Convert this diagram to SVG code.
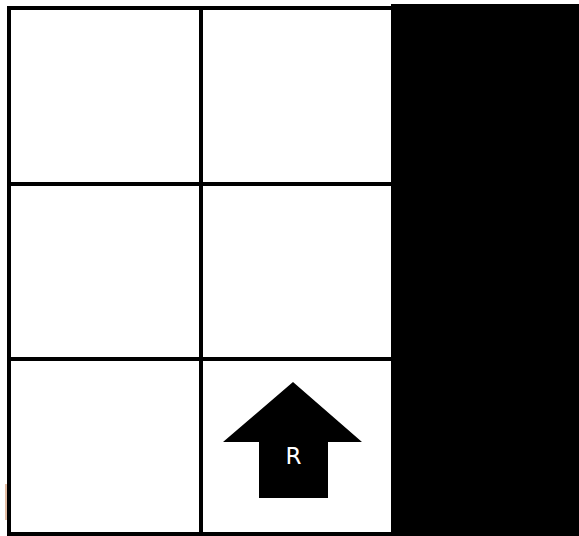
<svg xmlns="http://www.w3.org/2000/svg" width="579" height="536" viewBox="0 0 579 536">
<style>
.grid{stroke:#000;stroke-width:4;fill:none}
.lbl{font-family:"DejaVu Sans","Liberation Sans",sans-serif;font-size:23px;fill:#fff;text-anchor:middle}
</style>
<rect width="579" height="536" fill="#fff"/>
<g id="grid">
<line class="grid" x1="7" y1="8" x2="392" y2="8"/>
<line class="grid" x1="7" y1="184" x2="392" y2="184"/>
<line class="grid" x1="7" y1="359" x2="392" y2="359"/>
<line class="grid" x1="7" y1="534" x2="392" y2="534"/>
<line class="grid" x1="9" y1="6" x2="9" y2="536"/>
<line class="grid" x1="201" y1="6" x2="201" y2="536"/>
</g>
<g id="wall">
<rect x="391" y="4" width="188" height="532" fill="#000"/>
</g>
<g id="mark">
<line x1="6" y1="484" x2="6" y2="520" stroke="#d09066" stroke-width="1.2"/>
</g>
<g id="robot">
<polygon points="293,382 362,442 328,442 328,498 259,498 259,442 223,442" fill="#000"/>
<text class="lbl" x="293.5" y="464">R</text>
</g>
</svg>
